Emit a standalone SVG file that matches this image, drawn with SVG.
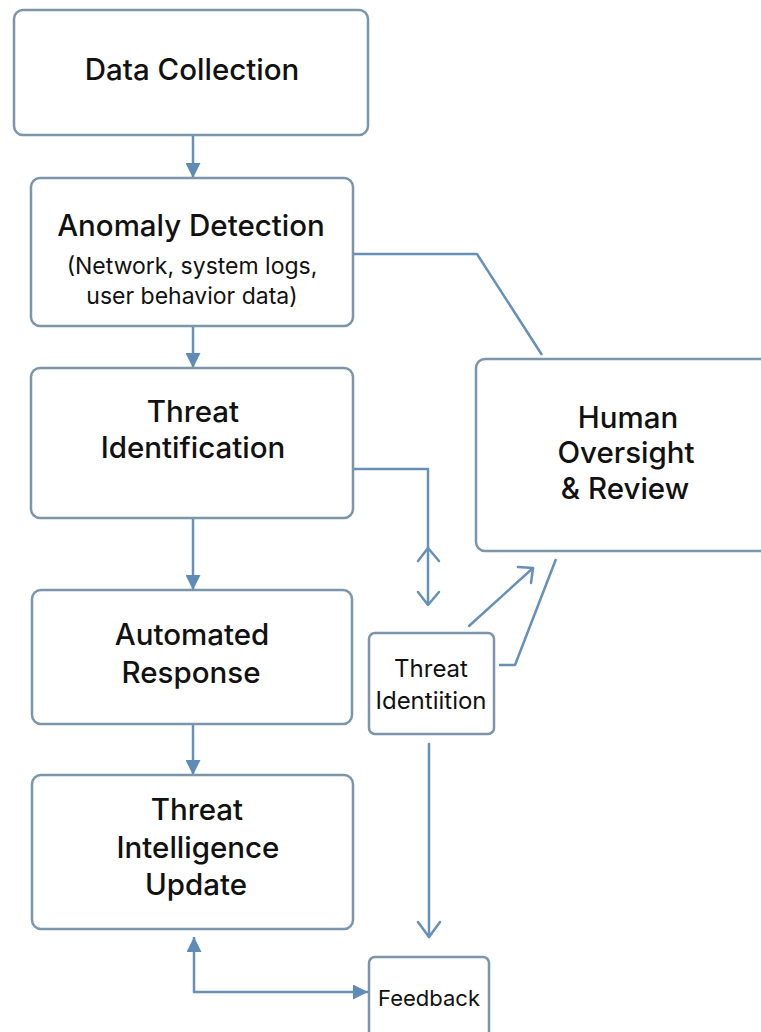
<svg xmlns="http://www.w3.org/2000/svg" width="761" height="1032" viewBox="0 0 761 1032">
<style>
.box{fill:#fff;stroke:#7b95ab;stroke-width:2.5}
.t{font-family:Inter,"Noto Sans","DejaVu Sans",sans-serif;font-weight:500;fill:#111;text-anchor:middle}
.big{font-size:29.5px}
.mid{font-size:23px;font-weight:400}
.sm{font-size:24px;font-weight:400}
.c{fill:none;stroke:#6690b5;stroke-width:2.5;stroke-linejoin:round}
.o{fill:none;stroke:#6690b5;stroke-width:2.5;stroke-linecap:round;stroke-linejoin:round}
</style>
<defs>
<marker id="fa" viewBox="0 0 10 10" refX="10" refY="5" markerWidth="6" markerHeight="6" orient="auto-start-reverse" markerUnits="strokeWidth">
<path d="M0,0 L10,5 L0,10 z" fill="#5e8cb6"/>
</marker>
</defs>
<rect width="761" height="1032" fill="#fff"/>
<g id="connectors">
<line class="c" x1="193" y1="135" x2="193" y2="178" marker-end="url(#fa)"/>
<line class="c" x1="193" y1="326" x2="193" y2="368" marker-end="url(#fa)"/>
<line class="c" x1="193" y1="518" x2="193" y2="590" marker-end="url(#fa)"/>
<line class="c" x1="193" y1="724" x2="193" y2="775" marker-end="url(#fa)"/>
<polyline class="c" points="353,254 477,254 542,355"/>
<polyline class="c" points="353,469 428,469 428,605"/>
<polyline class="o" points="418,561 428,548 439,561"/>
<polyline class="o" points="418,592 428,605 439,592"/>
<line class="o" x1="469" y1="626" x2="533" y2="568"/>
<polyline class="o" points="518,567 533,568 531,583"/>
<polyline class="c" points="499,665 515,665 556,559"/>
<line class="o" x1="429" y1="744" x2="429" y2="937"/>
<polyline class="o" points="418,922 429,937 440,922"/>
<polyline class="c" points="194,937 194,992 368,992" marker-start="url(#fa)" marker-end="url(#fa)"/>
</g>
<g id="data-collection">
<rect class="box" x="14" y="10" width="354" height="125" rx="9"/>
<text class="t big" x="192" y="80">Data Collection</text>
</g>
<g id="anomaly-detection">
<rect class="box" x="31" y="178" width="322" height="148" rx="9"/>
<text class="t big" x="191" y="236">Anomaly Detection</text>
<text class="t mid" x="192" y="274">(Network, system logs,</text>
<text class="t mid" x="192" y="304">user behavior data)</text>
</g>
<g id="threat-identification">
<rect class="box" x="31" y="368" width="322" height="150" rx="9"/>
<text class="t big" x="193" y="422">Threat</text>
<text class="t big" x="193" y="458">Identification</text>
</g>
<g id="automated-response">
<rect class="box" x="32" y="590" width="320" height="134" rx="9"/>
<text class="t big" x="192" y="645">Automated</text>
<text class="t big" x="191" y="683">Response</text>
</g>
<g id="threat-intelligence-update">
<rect class="box" x="32" y="775" width="321" height="154" rx="9"/>
<text class="t big" x="197" y="820">Threat</text>
<text class="t big" x="198" y="858">Intelligence</text>
<text class="t big" x="196" y="895">Update</text>
</g>
<g id="human-oversight">
<rect class="box" x="476" y="359" width="300" height="192" rx="9"/>
<text class="t big" x="628" y="428">Human</text>
<text class="t big" x="626" y="463">Oversight</text>
<text class="t big" x="625" y="499">&amp; Review</text>
</g>
<g id="threat-identition">
<rect class="box" x="369" y="633" width="125" height="101" rx="6"/>
<text class="t sm" x="431" y="677">Threat</text>
<text class="t sm" x="431" y="709">Identiition</text>
</g>
<g id="feedback">
<rect class="box" x="369" y="957" width="120" height="90" rx="6"/>
<text class="t" style="font-size:22px;font-weight:400" x="429" y="1006">Feedback</text>
</g>
</svg>
